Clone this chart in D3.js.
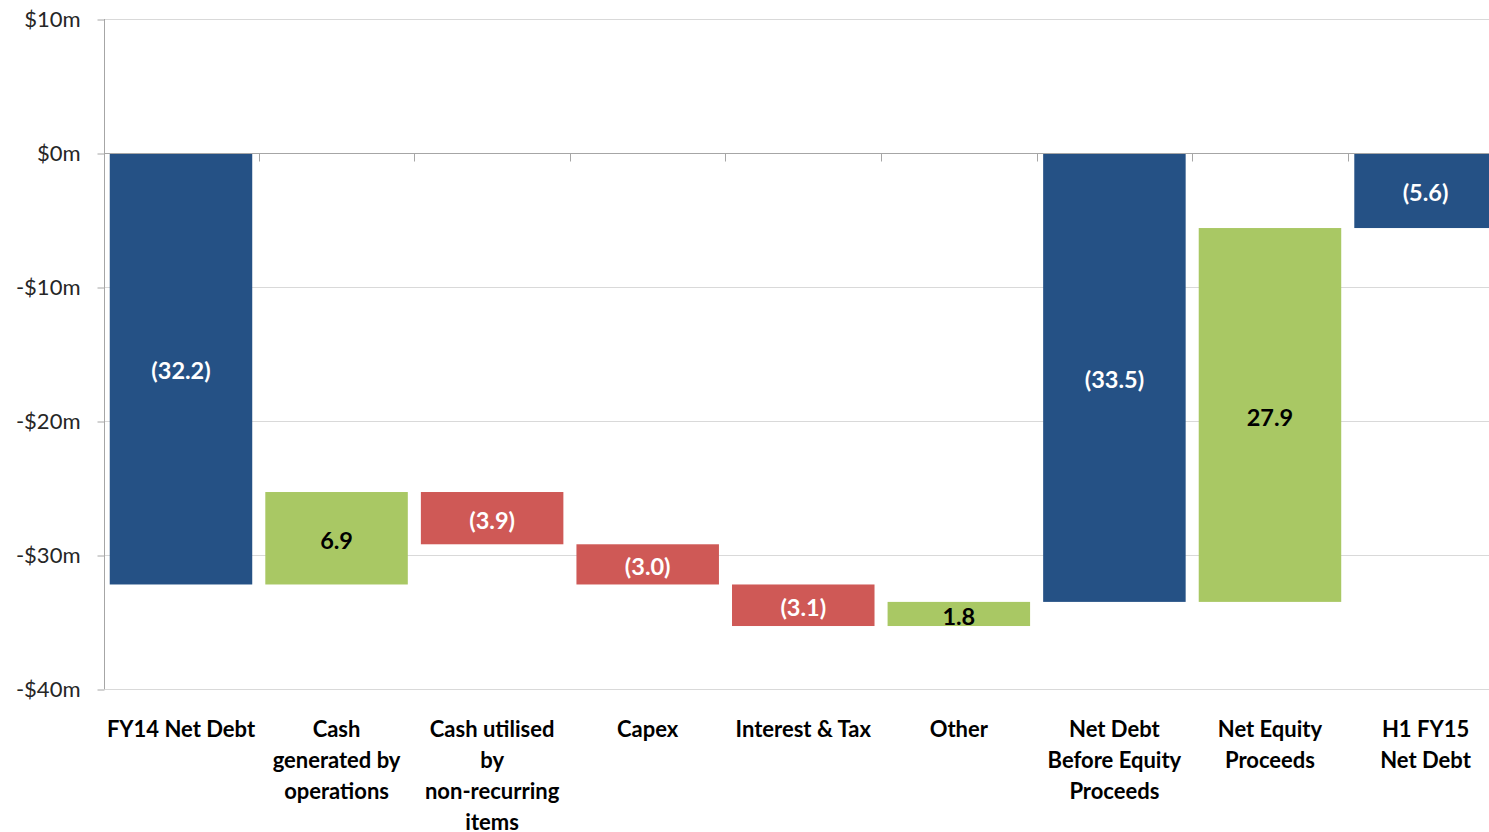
<!DOCTYPE html>
<html>
<head>
<meta charset="utf-8">
<script src="https://cdn.jsdelivr.net/npm/d3@7"></script>
<style>
  html, body { margin: 0; padding: 0; background: #fff; }
  svg { display: block; }
  text { font-family: Lato, "Open Sans", sans-serif; }
</style>
</head>
<body>
<svg id="chart" width="1489" height="832"></svg>
<script>
// Net debt bridge, $m
const categories = [
  ["FY14 Net Debt"],
  ["Cash", "generated by", "operations"],
  ["Cash utilised", "by", "non-recurring", "items"],
  ["Capex"],
  ["Interest & Tax"],
  ["Other"],
  ["Net Debt", "Before Equity", "Proceeds"],
  ["Net Equity", "Proceeds"],
  ["H1 FY15", "Net Debt"]
];
// change for each step; totals are drawn from zero
const values = [-32.2, 6.9, -3.9, -3.0, -3.1, 1.8, -33.5, 27.9, -5.6];
const kinds  = ["total", "step", "step", "step", "step", "step", "total", "step", "total"];
const yTicks = [10, 0, -10, -20, -30, -40];

const colors = { total: "#255185", up: "#a9c864", down: "#cf5956" };

// running position of each floating bar
let running = 0;
const bars = values.map((v, i) => {
  let y0, y1, kind;
  if (kinds[i] === "total") {
    y0 = 0; y1 = v; running = v; kind = "total";
  } else {
    y0 = running; y1 = running + v; running = y1; kind = v >= 0 ? "up" : "down";
  }
  return { i, v, y0, y1, kind, label: categories[i] };
});

const svg = d3.select("#chart");
const plotLeft = 104, plotTop = 19, plotBottom = 689, plotRight = 1489;
const step = 155.57;

const x = d3.scaleBand()
  .domain(d3.range(categories.length))
  .range([plotLeft - 0.8, plotLeft - 0.8 + step * categories.length])
  .paddingInner(0.084)
  .paddingOuter(0.042);

const y = d3.scaleLinear().domain([-40, 10]).range([plotBottom, plotTop]);

// gridlines
svg.append("g")
  .selectAll("line")
  .data(yTicks.filter(t => t !== 0))
  .join("line")
  .attr("x1", plotLeft).attr("x2", plotRight)
  .attr("y1", d => y(d) + 0.5).attr("y2", d => y(d) + 0.5)
  .attr("stroke", "#d9d9d9").attr("stroke-width", 1);

// y axis
const yAxis = svg.append("g")
  .attr("transform", `translate(${plotLeft + 0.5},0)`)
  .call(d3.axisLeft(y).tickValues(yTicks).tickSize(7).tickPadding(17)
    .tickFormat(d => (d < 0 ? "-$" : "$") + Math.abs(d) + "m"));
yAxis.select(".domain").attr("stroke", "#a6a6a6").attr("d", `M0,${plotTop}V${plotBottom}`);
yAxis.selectAll(".tick line").attr("stroke", "#a6a6a6").attr("transform", "translate(0,0.5)");
yAxis.selectAll(".tick text")
  .attr("font-size", 22).attr("fill", "#262626")
  .style("font-family", "Lato, sans-serif");

// bars
svg.append("g")
  .selectAll("rect")
  .data(bars)
  .join("rect")
  .attr("x", d => x(d.i))
  .attr("width", x.bandwidth())
  .attr("y", d => y(Math.max(d.y0, d.y1)))
  .attr("height", d => Math.abs(y(d.y0) - y(d.y1)))
  .attr("fill", d => colors[d.kind]);

// zero baseline with category boundary ticks
const zeroY = y(0) + 0.5;
svg.append("line")
  .attr("x1", plotLeft).attr("x2", plotRight)
  .attr("y1", zeroY).attr("y2", zeroY)
  .attr("stroke", "#a6a6a6");
svg.append("g")
  .selectAll("line")
  .data(d3.range(1, categories.length))
  .join("line")
  .attr("x1", d => Math.round(x(d) - x.step() * x.paddingInner() / 2) + 0.5)
  .attr("x2", d => Math.round(x(d) - x.step() * x.paddingInner() / 2) + 0.5)
  .attr("y1", zeroY).attr("y2", zeroY + 8)
  .attr("stroke", "#a6a6a6");

// value labels
svg.append("g")
  .selectAll("text")
  .data(bars)
  .join("text")
  .attr("x", d => x(d.i) + x.bandwidth() / 2)
  .attr("y", d => (y(d.y0) + y(d.y1)) / 2)
  .attr("dy", "0.45em")
  .attr("text-anchor", "middle")
  .attr("font-size", 23.5).attr("font-weight", "bold")
  .attr("fill", d => d.kind === "up" ? "#000" : "#fff")
  .text(d => d.v < 0 ? `(${Math.abs(d.v).toFixed(1)})` : d.v.toFixed(1));

// category labels
const cat = svg.append("g")
  .selectAll("text")
  .data(bars)
  .join("text")
  .attr("text-anchor", "middle")
  .attr("font-size", 22).attr("font-weight", "bold")
  .attr("fill", "#000");
cat.selectAll("tspan")
  .data(d => d.label.map(l => ({ l, cx: x(d.i) + x.bandwidth() / 2 })))
  .join("tspan")
  .attr("x", d => d.cx)
  .attr("y", (d, k) => 737 + k * 31)
  .text(d => d.l);
</script>
</body>
</html>
